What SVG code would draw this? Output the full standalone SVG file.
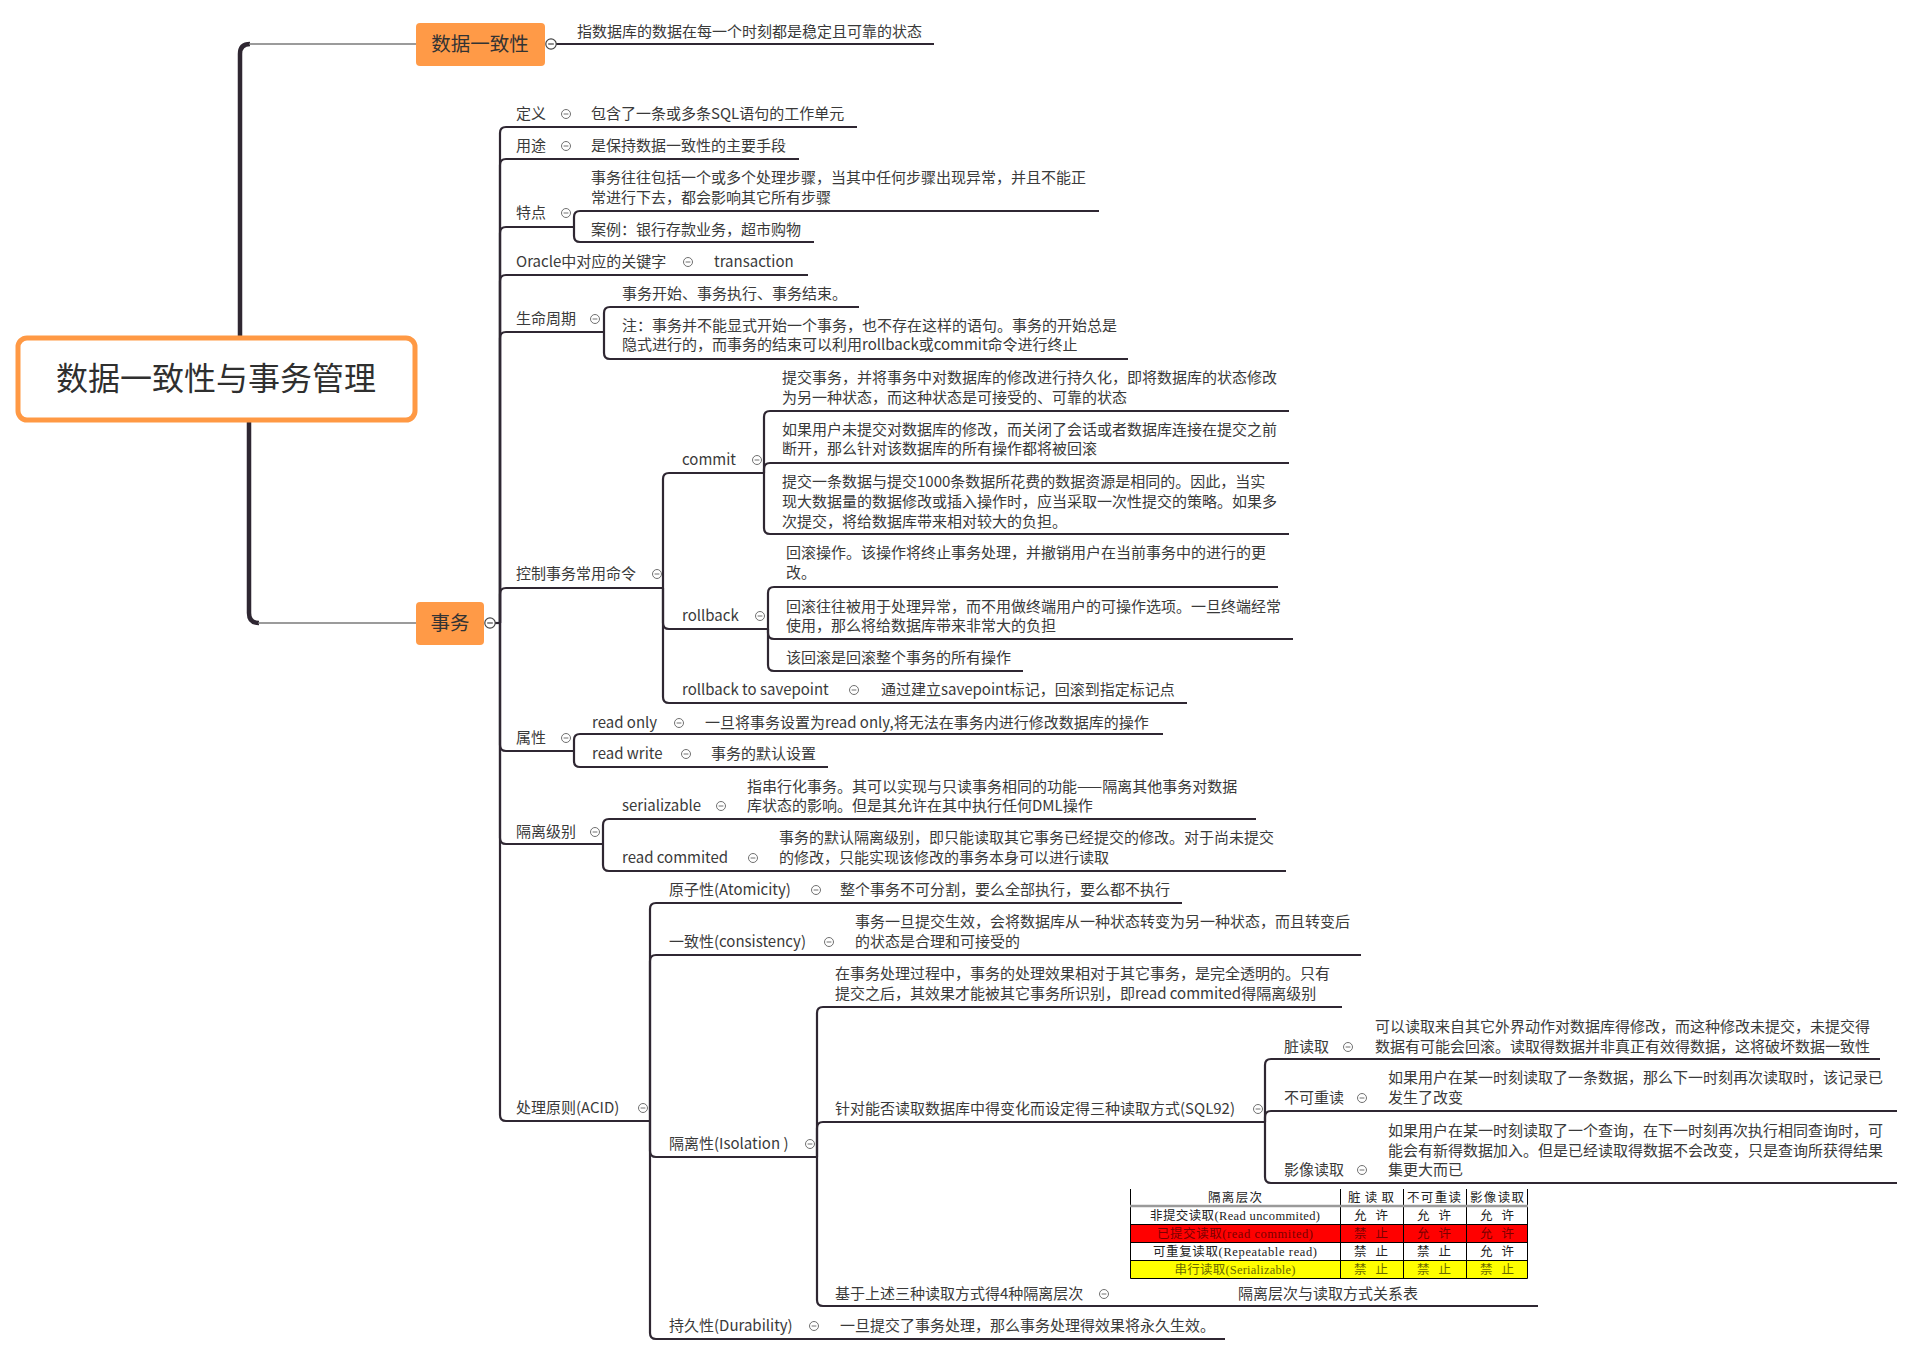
<svg xmlns="http://www.w3.org/2000/svg" xmlns:xlink="http://www.w3.org/1999/xlink" width="1913" height="1355" viewBox="0 0 1913 1355">
<style>
.t{font-family:"Noto Sans CJK SC","Liberation Sans",sans-serif;font-size:15px;fill:#3a3a3a}
.big{font-size:32px;fill:#2f2f2f}
.hd{font-size:19.5px;fill:#333}
.ln{fill:none;stroke:#2f2732;stroke-width:2.2;stroke-linejoin:round}
.trunk{fill:none;stroke:#2f2732;stroke-width:4.5}
.thin{fill:none;stroke:#7a7a7a;stroke-width:1.6}
.tb{font-family:"Liberation Serif","Noto Sans CJK SC",serif;font-size:12.5px;fill:#222;text-anchor:middle}
.tg{stroke:#000;stroke-width:1;fill:none}
.rd{fill:#7a0000}
.yl{fill:#6b6b00}
</style>
<defs>
<g id="cb"><circle r="4.5" fill="#fff" stroke="#707070" stroke-width="1"/><line x1="-2.4" y1="0" x2="2.4" y2="0" stroke="#707070" stroke-width="1"/></g>
<g id="cbb"><circle r="5.2" fill="#fff" stroke="#444" stroke-width="1.2"/><line x1="-2.8" y1="0" x2="2.8" y2="0" stroke="#444" stroke-width="1.2"/></g>
</defs>
<rect width="1913" height="1355" fill="#fff"/>

<g id="connectors">
<path class="trunk" d="M240,338 V54 Q240,44 250,44"/>
<path class="thin" d="M249,44 H416"/>
<path class="trunk" d="M249,420 V613 Q249,623 259,623"/>
<path class="thin" d="M258,623 H416"/>
<path class="ln" d="M556,44 H934"/>
<path class="ln" d="M495,623 H500"/>
<path class="ln" d="M500,623 V133 Q500,127 506,127 H857"/>
<path class="ln" d="M500,623 V165 Q500,159 506,159 H799"/>
<path class="ln" d="M500,623 V233 Q500,227 506,227 H574"/>
<path class="ln" d="M500,623 V281 Q500,275 506,275 H808"/>
<path class="ln" d="M500,623 V338 Q500,332 506,332 H604"/>
<path class="ln" d="M500,623 V594 Q500,588 506,588 H663"/>
<path class="ln" d="M500,623 V745 Q500,751 506,751 H574"/>
<path class="ln" d="M500,623 V838 Q500,844 506,844 H603"/>
<path class="ln" d="M500,623 V1115 Q500,1121 506,1121 H650"/>
<path class="ln" d="M574,227 V217 Q574,211 580,211 H1099"/>
<path class="ln" d="M574,227 V236 Q574,242 580,242 H814"/>
<path class="ln" d="M604,332 V313 Q604,307 610,307 H859"/>
<path class="ln" d="M604,332 V353 Q604,359 610,359 H1128"/>
<path class="ln" d="M663,588 V479 Q663,473 669,473 H764"/>
<path class="ln" d="M663,588 V623 Q663,629 669,629 H768"/>
<path class="ln" d="M663,588 V697 Q663,703 669,703 H1187"/>
<path class="ln" d="M764,473 V417 Q764,411 770,411 H1289"/>
<path class="ln" d="M764,473 V469 Q764,463 770,463 H1289"/>
<path class="ln" d="M764,473 V528 Q764,534 770,534 H1289"/>
<path class="ln" d="M768,629 V593 Q768,587 774,587 H1278"/>
<path class="ln" d="M768,629 V633 Q768,639 774,639 H1293"/>
<path class="ln" d="M768,629 V665 Q768,671 774,671 H1023"/>
<path class="ln" d="M574,751 V740 Q574,734 580,734 H1163"/>
<path class="ln" d="M574,751 V761 Q574,767 580,767 H828"/>
<path class="ln" d="M603,844 V825 Q603,819 609,819 H1256"/>
<path class="ln" d="M603,844 V865 Q603,871 609,871 H1286"/>
<path class="ln" d="M650,1121 V909 Q650,903 656,903 H1182"/>
<path class="ln" d="M650,1121 V961 Q650,955 656,955 H1361"/>
<path class="ln" d="M650,1121 V1151 Q650,1157 656,1157 H817"/>
<path class="ln" d="M650,1121 V1333 Q650,1339 656,1339 H1225"/>
<path class="ln" d="M817,1157 V1013 Q817,1007 823,1007 H1342"/>
<path class="ln" d="M817,1157 V1128 Q817,1122 823,1122 H1265"/>
<path class="ln" d="M817,1157 V1300 Q817,1306 823,1306 H1538"/>
<path class="ln" d="M1265,1122 V1065 Q1265,1059 1271,1059 H1880"/>
<path class="ln" d="M1265,1122 V1117 Q1265,1111 1271,1111 H1897"/>
<path class="ln" d="M1265,1122 V1177 Q1265,1183 1271,1183 H1897"/>
</g>

<g id="n-root">
<rect x="18" y="338" width="397" height="82" rx="9" fill="#fff" stroke="#FF9944" stroke-width="5"/>
<text class="t big" x="216" y="390" text-anchor="middle">数据一致性与事务管理</text>
</g>

<g id="n-consistency">
<rect x="416" y="23" width="129" height="43" rx="4" fill="#FF9A47"/>
<text class="t hd" x="480" y="51" text-anchor="middle">数据一致性</text>
<use xlink:href="#cbb" x="551" y="44"/>
</g>
<g id="n-consistency-def"><text class="t" x="577" y="37">指数据库的数据在每一个时刻都是稳定且可靠的状态</text></g>

<g id="n-tx">
<rect x="416" y="602" width="68" height="43" rx="4" fill="#FF9A47"/>
<text class="t hd" x="450" y="630" text-anchor="middle">事务</text>
<use xlink:href="#cbb" x="490" y="623"/>
</g>

<g id="n-def"><text class="t" x="516" y="119">定义</text><use xlink:href="#cb" x="566" y="114"/></g>
<g id="n-def-c"><text class="t" x="591" y="119">包含了一条或多条SQL语句的工作单元</text></g>

<g id="n-use"><text class="t" x="516" y="151">用途</text><use xlink:href="#cb" x="566" y="146"/></g>
<g id="n-use-c"><text class="t" x="591" y="151">是保持数据一致性的主要手段</text></g>

<g id="n-feat"><text class="t" x="516" y="218">特点</text><use xlink:href="#cb" x="566" y="213"/></g>
<g id="n-feat-a"><text class="t"><tspan x="591" y="183">事务往往包括一个或多个处理步骤，当其中任何步骤出现异常，并且不能正</tspan><tspan x="591" y="203">常进行下去，都会影响其它所有步骤</tspan></text></g>
<g id="n-feat-b"><text class="t" x="591" y="235">案例：银行存款业务，超市购物</text></g>

<g id="n-oracle"><text class="t" x="516" y="267">Oracle中对应的关键字</text><use xlink:href="#cb" x="688" y="262"/></g>
<g id="n-oracle-c"><text class="t" x="714" y="267">transaction</text></g>

<g id="n-life"><text class="t" x="516" y="324">生命周期</text><use xlink:href="#cb" x="595" y="319"/></g>
<g id="n-life-a"><text class="t" x="622" y="299">事务开始、事务执行、事务结束。</text></g>
<g id="n-life-b"><text class="t"><tspan x="622" y="331">注：事务并不能显式开始一个事务，也不存在这样的语句。事务的开始总是</tspan><tspan x="622" y="350">隐式进行的，而事务的结束可以利用rollback或commit命令进行终止</tspan></text></g>

<g id="n-ctrl"><text class="t" x="516" y="579">控制事务常用命令</text><use xlink:href="#cb" x="657" y="574"/></g>
<g id="n-commit"><text class="t" x="682" y="465">commit</text><use xlink:href="#cb" x="757" y="460"/></g>
<g id="n-commit-a"><text class="t"><tspan x="782" y="383">提交事务，并将事务中对数据库的修改进行持久化，即将数据库的状态修改</tspan><tspan x="782" y="403">为另一种状态，而这种状态是可接受的、可靠的状态</tspan></text></g>
<g id="n-commit-b"><text class="t"><tspan x="782" y="435">如果用户未提交对数据库的修改，而关闭了会话或者数据库连接在提交之前</tspan><tspan x="782" y="454">断开，那么针对该数据库的所有操作都将被回滚</tspan></text></g>
<g id="n-commit-c"><text class="t"><tspan x="782" y="487">提交一条数据与提交1000条数据所花费的数据资源是相同的。因此，当实</tspan><tspan x="782" y="507">现大数据量的数据修改或插入操作时，应当采取一次性提交的策略。如果多</tspan><tspan x="782" y="527">次提交，将给数据库带来相对较大的负担。</tspan></text></g>

<g id="n-rollback"><text class="t" x="682" y="621">rollback</text><use xlink:href="#cb" x="760" y="616"/></g>
<g id="n-rollback-a"><text class="t"><tspan x="786" y="558">回滚操作。该操作将终止事务处理，并撤销用户在当前事务中的进行的更</tspan><tspan x="786" y="578">改。</tspan></text></g>
<g id="n-rollback-b"><text class="t"><tspan x="786" y="612">回滚往往被用于处理异常，而不用做终端用户的可操作选项。一旦终端经常</tspan><tspan x="786" y="631">使用，那么将给数据库带来非常大的负担</tspan></text></g>
<g id="n-rollback-c"><text class="t" x="786" y="663">该回滚是回滚整个事务的所有操作</text></g>

<g id="n-savepoint"><text class="t" x="682" y="695">rollback to savepoint</text><use xlink:href="#cb" x="854" y="690"/></g>
<g id="n-savepoint-c"><text class="t" x="881" y="695">通过建立savepoint标记，回滚到指定标记点</text></g>

<g id="n-attr"><text class="t" x="516" y="743">属性</text><use xlink:href="#cb" x="566" y="738"/></g>
<g id="n-ro"><text class="t" x="592" y="728">read only</text><use xlink:href="#cb" x="679" y="723"/></g>
<g id="n-ro-c"><text class="t" x="705" y="728">一旦将事务设置为read only,将无法在事务内进行修改数据库的操作</text></g>
<g id="n-rw"><text class="t" x="592" y="759">read write</text><use xlink:href="#cb" x="686" y="754"/></g>
<g id="n-rw-c"><text class="t" x="711" y="759">事务的默认设置</text></g>

<g id="n-iso"><text class="t" x="516" y="837">隔离级别</text><use xlink:href="#cb" x="595" y="832"/></g>
<g id="n-ser"><text class="t" x="622" y="811">serializable</text><use xlink:href="#cb" x="721" y="806"/></g>
<g id="n-ser-c"><text class="t"><tspan x="747" y="792">指串行化事务。其可以实现与只读事务相同的功能——隔离其他事务对数据</tspan><tspan x="747" y="811">库状态的影响。但是其允许在其中执行任何DML操作</tspan></text></g>
<g id="n-rc"><text class="t" x="622" y="863">read commited</text><use xlink:href="#cb" x="753" y="858"/></g>
<g id="n-rc-c"><text class="t"><tspan x="779" y="843">事务的默认隔离级别，即只能读取其它事务已经提交的修改。对于尚未提交</tspan><tspan x="779" y="863">的修改，只能实现该修改的事务本身可以进行读取</tspan></text></g>

<g id="n-acid"><text class="t" x="516" y="1113">处理原则(ACID)</text><use xlink:href="#cb" x="643" y="1108"/></g>
<g id="n-atom"><text class="t" x="669" y="895">原子性(Atomicity)</text><use xlink:href="#cb" x="816" y="890"/></g>
<g id="n-atom-c"><text class="t" x="840" y="895">整个事务不可分割，要么全部执行，要么都不执行</text></g>
<g id="n-cons"><text class="t" x="669" y="947">一致性(consistency)</text><use xlink:href="#cb" x="829" y="942"/></g>
<g id="n-cons-c"><text class="t"><tspan x="855" y="927">事务一旦提交生效，会将数据库从一种状态转变为另一种状态，而且转变后</tspan><tspan x="855" y="947">的状态是合理和可接受的</tspan></text></g>
<g id="n-isol"><text class="t" x="669" y="1149">隔离性(Isolation )</text><use xlink:href="#cb" x="810" y="1144"/></g>
<g id="n-isol-a"><text class="t"><tspan x="835" y="979">在事务处理过程中，事务的处理效果相对于其它事务，是完全透明的。只有</tspan><tspan x="835" y="999">提交之后，其效果才能被其它事务所识别，即read commited得隔离级别</tspan></text></g>
<g id="n-sql92"><text class="t" x="835" y="1114">针对能否读取数据库中得变化而设定得三种读取方式(SQL92)</text><use xlink:href="#cb" x="1258" y="1109"/></g>
<g id="n-dirty"><text class="t" x="1284" y="1052">脏读取</text><use xlink:href="#cb" x="1348" y="1047"/></g>
<g id="n-dirty-c"><text class="t"><tspan x="1375" y="1032">可以读取来自其它外界动作对数据库得修改，而这种修改未提交，未提交得</tspan><tspan x="1375" y="1052">数据有可能会回滚。读取得数据并非真正有效得数据，这将破坏数据一致性</tspan></text></g>
<g id="n-nrr"><text class="t" x="1284" y="1103">不可重读</text><use xlink:href="#cb" x="1362" y="1098"/></g>
<g id="n-nrr-c"><text class="t"><tspan x="1388" y="1083">如果用户在某一时刻读取了一条数据，那么下一时刻再次读取时，该记录已</tspan><tspan x="1388" y="1103">发生了改变</tspan></text></g>
<g id="n-phantom"><text class="t" x="1284" y="1175">影像读取</text><use xlink:href="#cb" x="1362" y="1170"/></g>
<g id="n-phantom-c"><text class="t"><tspan x="1388" y="1136">如果用户在某一时刻读取了一个查询，在下一时刻再次执行相同查询时，可</tspan><tspan x="1388" y="1156">能会有新得数据加入。但是已经读取得数据不会改变，只是查询所获得结果</tspan><tspan x="1388" y="1175">集更大而已</tspan></text></g>
<g id="n-levels"><text class="t" x="835" y="1299">基于上述三种读取方式得4种隔离层次</text><use xlink:href="#cb" x="1104" y="1294"/></g>
<g id="n-table">
<rect x="1130" y="1224" width="398" height="18" fill="#FF0000"/>
<rect x="1130" y="1260" width="398" height="18" fill="#FFFF00"/>
<path class="tg" d="M1130.5,1189 V1278.5 H1527.5 V1189 M1340.5,1189 V1278 M1403.5,1189 V1278 M1466.5,1189 V1278 M1130,1224.5 H1528 M1130,1242.5 H1528 M1130,1260.5 H1528"/>
<path d="M1130,1206 H1528" stroke="#9a9a9a" stroke-width="2.5"/>
<text class="tb" x="1235" y="1202" fill="#444" textLength="54" lengthAdjust="spacing">隔离层次</text>
<text class="tb" x="1371" y="1202" textLength="46" lengthAdjust="spacing">脏读取</text>
<text class="tb" x="1434" y="1202" textLength="54" lengthAdjust="spacing">不可重读</text>
<text class="tb" x="1497" y="1202" textLength="54" lengthAdjust="spacing">影像读取</text>
<text class="tb" x="1235" y="1220" textLength="170" lengthAdjust="spacing">非提交读取(Read uncommited)</text>
<text class="tb" x="1371" y="1220" textLength="34" lengthAdjust="spacing">允许</text><text class="tb" x="1434" y="1220" textLength="34" lengthAdjust="spacing">允许</text><text class="tb" x="1497" y="1220" textLength="34" lengthAdjust="spacing">允许</text>
<text class="tb rd" x="1235" y="1238" textLength="156" lengthAdjust="spacing">已提交读取(read commited)</text>
<text class="tb rd" x="1371" y="1238" textLength="34" lengthAdjust="spacing">禁止</text><text class="tb rd" x="1434" y="1238" textLength="34" lengthAdjust="spacing">允许</text><text class="tb rd" x="1497" y="1238" textLength="34" lengthAdjust="spacing">允许</text>
<text class="tb" x="1235" y="1256" textLength="164" lengthAdjust="spacing">可重复读取(Repeatable read)</text>
<text class="tb" x="1371" y="1256" textLength="34" lengthAdjust="spacing">禁止</text><text class="tb" x="1434" y="1256" textLength="34" lengthAdjust="spacing">禁止</text><text class="tb" x="1497" y="1256" textLength="34" lengthAdjust="spacing">允许</text>
<text class="tb yl" x="1235" y="1274" textLength="121" lengthAdjust="spacing">串行读取(Serializable)</text>
<text class="tb yl" x="1371" y="1274" textLength="34" lengthAdjust="spacing">禁止</text><text class="tb yl" x="1434" y="1274" textLength="34" lengthAdjust="spacing">禁止</text><text class="tb yl" x="1497" y="1274" textLength="34" lengthAdjust="spacing">禁止</text>
</g>
<g id="n-levels-c"><text class="t" x="1238" y="1299">隔离层次与读取方式关系表</text></g>
<g id="n-dur"><text class="t" x="669" y="1331">持久性(Durability)</text><use xlink:href="#cb" x="814" y="1326"/></g>
<g id="n-dur-c"><text class="t" x="840" y="1331">一旦提交了事务处理，那么事务处理得效果将永久生效。</text></g>
</svg>
